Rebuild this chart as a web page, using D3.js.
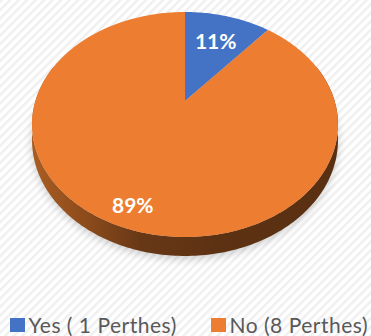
<!DOCTYPE html>
<html>
<head>
<meta charset="utf-8">
<script src="https://cdn.jsdelivr.net/npm/d3@7/dist/d3.min.js"></script>
<style>
  html, body { margin: 0; padding: 0; background: #fff; }
  svg { display: block; }
</style>
</head>
<body>
<svg id="chart" width="371" height="336"></svg>
<script>
// Chart data
const categories = ["Yes ( 1 Perthes)", "No (8 Perthes)"];
const counts = [1, 8];
const colors = ["#4472c4", "#ed7d31"];

const W = 371, H = 336;
const svg = d3.select("#chart");
const defs = svg.append("defs");

// Diagonal hatched background
const pat = defs.append("pattern")
  .attr("id", "hatch").attr("patternUnits", "userSpaceOnUse")
  .attr("width", 6).attr("height", 6)
  .attr("patternTransform", "rotate(-45)");
pat.append("rect").attr("width", 6).attr("height", 6).attr("fill", "#ffffff");
pat.append("rect").attr("width", 6).attr("height", 2.4).attr("fill", "#efefef");
svg.append("rect").attr("width", W).attr("height", H).attr("fill", "url(#hatch)");

// Perspective projection of a tilted unit disc
const cx = 185, cy = 101, ax = 149.6, by = 107.6, k = -0.2089, depth0 = 15;
function proj(theta, r) {
  const X = r * Math.sin(theta), Y = -r * Math.cos(theta);
  const d = 1 + k * Y;
  return [cx + ax * X / d, cy + by * Y / d];
}
function depthAt(theta) {
  const Y = -Math.cos(theta);
  return depth0 / (1 + k * Y);
}

const pie = d3.pie().sort(null).value(d => d)(counts);
const total = d3.sum(counts);

// Soft drop shadow beneath the disc
const blur = defs.append("filter").attr("id", "blur")
  .attr("x", "-20%").attr("y", "-20%").attr("width", "140%").attr("height", "140%");
blur.append("feGaussianBlur").attr("stdDeviation", 4);
const shadowPts = d3.range(0, 361, 3).map(a => {
  const t = a * Math.PI / 180;
  const p = proj(t, 1.0);
  return [p[0], p[1] + depthAt(t) + 3];
});
svg.append("path")
  .attr("d", d3.line()(shadowPts) + "Z")
  .attr("fill", "#000").attr("opacity", 0.18)
  .attr("filter", "url(#blur)");

// Side wall gradient
const grad = defs.append("linearGradient").attr("id", "side")
  .attr("gradientUnits", "userSpaceOnUse")
  .attr("x1", cx - ax).attr("x2", cx + ax).attr("y1", 0).attr("y2", 0);
[[0, "#a85c22"], [0.18, "#8a4a1b"], [0.35, "#683816"], [0.6, "#5d3213"], [1, "#5a3012"]]
  .forEach(([o, c]) => grad.append("stop").attr("offset", o).attr("stop-color", c));

const step = Math.PI / 180;
const sideTop = d3.range(70, 291).map(a => proj(a * step, 1));
const sideBot = d3.range(290, 69, -1).map(a => {
  const t = a * step, p = proj(t, 1);
  return [p[0], p[1] + depthAt(t)];
});
svg.append("path")
  .attr("d", d3.line()(sideTop.concat(sideBot)) + "Z")
  .attr("fill", "url(#side)");

// Top face slices
pie.forEach((s, i) => {
  const pts = [[cx, cy]];
  const n = Math.max(2, Math.ceil((s.endAngle - s.startAngle) / step));
  for (let j = 0; j <= n; j++) {
    const t = s.startAngle + (s.endAngle - s.startAngle) * j / n;
    pts.push(proj(t, 1));
  }
  svg.append("path")
    .attr("d", d3.line()(pts) + "Z")
    .attr("fill", colors[i]);
});

// Percentage labels
const labelR = [0.68, 0.85];
pie.forEach((s, i) => {
  const mid = (s.startAngle + s.endAngle) / 2;
  const p = proj(mid, labelR[i]);
  svg.append("text")
    .attr("x", p[0]).attr("y", p[1])
    .attr("text-anchor", "middle").attr("dominant-baseline", "central")
    .attr("font-family", "Lato, 'Open Sans', sans-serif")
    .attr("font-weight", "bold").attr("font-size", 21)
    .attr("fill", "#ffffff")
    .text(d3.format(".0%")(s.value / total));
});

// Legend
const legendX = [10, 211];
const legend = svg.append("g");
categories.forEach((c, i) => {
  legend.append("rect")
    .attr("x", legendX[i]).attr("y", 318).attr("width", 15).attr("height", 14)
    .attr("fill", colors[i]);
  legend.append("text")
    .attr("x", legendX[i] + 18.5).attr("y", 333)
    .attr("font-family", "Lato, 'Open Sans', sans-serif")
    .attr("font-size", 21).attr("letter-spacing", 0.5).attr("fill", "#595959")
    .text(c);
});
</script>
</body>
</html>
